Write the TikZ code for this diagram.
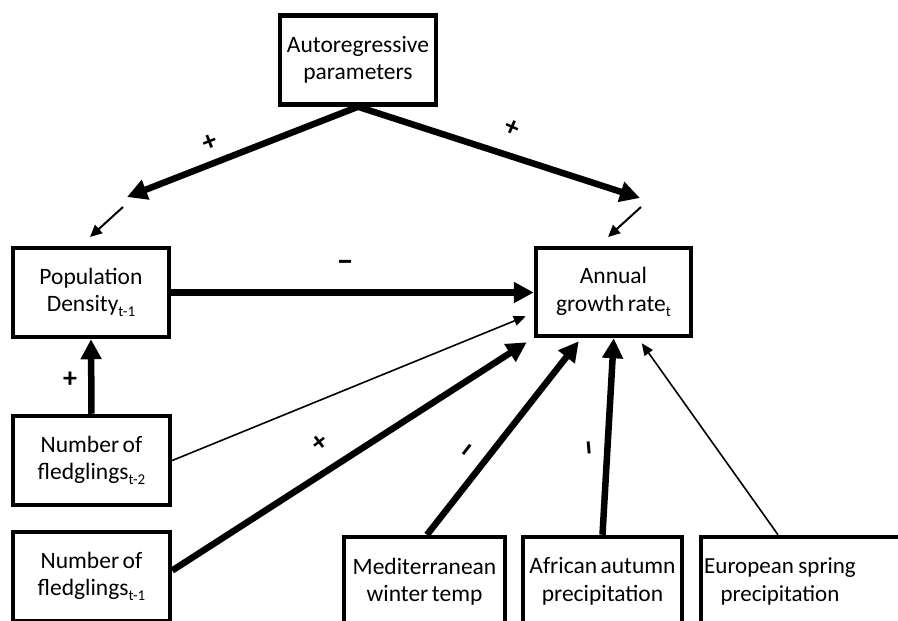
\documentclass[tikz,border=0pt]{standalone}
\usepackage{fontspec}
\setmainfont{Carlito}
\usetikzlibrary{arrows.meta,calc}
\newcommand\subtx[1]{\raisebox{-0.45ex}{\fontsize{15}{15}\selectfont #1}}
\newcommand\boxfont{\fontsize{23.5}{27.5}\selectfont\spaceskip=0.15em plus 0.05em\relax}
\newcommand\eurfont{\fontsize{23}{27.5}\selectfont\spaceskip=0.2em plus 0.05em\relax}
\begin{document}
\begin{tikzpicture}[x=1pt,y=-1pt,
  box/.style={draw, line width=4.5pt, minimum width=156pt, minimum height=89pt,
    align=center, inner sep=0pt, font=\boxfont},
  txt/.style={align=center, inner sep=0pt, font=\eurfont},
  sign/.style={inner sep=0pt, font=\bfseries\fontsize{28}{28}\selectfont},
  dashsign/.style={inner sep=0pt, font=\bfseries\fontsize{34}{34}\selectfont},
  thickarrow/.style={line width=6.5pt, -{Triangle[length=20pt,width=20pt]}},
  thinarrow/.style={line width=1.6pt, -{Triangle[length=12pt,width=10pt]}},
  smallarrow/.style={line width=2pt, -{Triangle[length=12pt,width=11pt]}}
]
\useasboundingbox (0,0) rectangle (898,621);
\clip (0,0) rectangle (898,621);
\fill[white] (0,0) rectangle (898,621);

% boxes
\node[box] (auto) at (358,60) {Autoregressive\\parameters};
\node[box] (pop) at (91,292.5) {Population\\Density\subtx{t-1}};
\node[box, minimum width=155pt, minimum height=88pt] (ann) at (613.5,292) {Annual\\growth rate\subtx{t}};
\node[box, minimum width=157pt] (f2) at (91.5,460.5) {Number of\\fledglings\subtx{t-2}};
\node[box, minimum width=157pt] (f1) at (91.5,576.5) {Number of\\fledglings\subtx{t-1}};
\node[box, minimum width=161pt] (med) at (424.5,581.5) {Mediterranean\\winter temp};
\node[box, minimum width=159pt] (afr) at (602.5,581.5) {African autumn\\precipitation};
\node[box, minimum width=208pt] (eur) at (805,581.5) {};
\node[txt] (eurtext) at (780,581.5) {European spring\\precipitation};

% free ends
\coordinate (lt) at (127,197);
\coordinate (rt) at (640,198);
\coordinate (la1) at (123,207);
\coordinate (la2) at (90,237);
\coordinate (ra1) at (641,207);
\coordinate (ra2) at (608,237);

% connectors
\draw[thickarrow, line cap=round] (auto.south) -- (lt);
\draw[thickarrow, line cap=round] (auto.south) -- (rt);
\draw[smallarrow] (la1) -- (la2);
\draw[smallarrow] (ra1) -- (ra2);
\draw[thickarrow] (pop.east) -- (pop.east -| ann.west);
\draw[thickarrow] (f2.north) -- (pop.south);
\draw[thinarrow] (f2.east) -- ($(ann.south west)+(-8,-22)$);
\draw[thickarrow] ([yshift=6pt]f1.east) -- ($(ann.south west)+(-7,4)$);
\draw[thickarrow] ([xshift=2.5pt]med.north) -- ($(ann.south west)+(45,3)$);
\draw[thickarrow] (afr.north) -- ($(ann.south west)+(80,0)$);
\draw[thinarrow] ([xshift=-2pt]eurtext |- eur.north) -- ($(ann.south west)+(108,5)$);

% signs
\node[sign, rotate=21.5] (lp) at (210,143) {+};
\node[sign, rotate=-24] (rp) at (512,128) {+};
\node[dashsign] (mm) at (345,266) {–};
\node[sign] (pp) at (70,380) {+};
\node[sign, rotate=38] (xx) at (320,443) {+};
\node[dashsign, rotate=52] (sl) at (470,452) {–};
\node[dashsign, rotate=95] (vb) at (593,448) {–};
\end{tikzpicture}
\end{document}
